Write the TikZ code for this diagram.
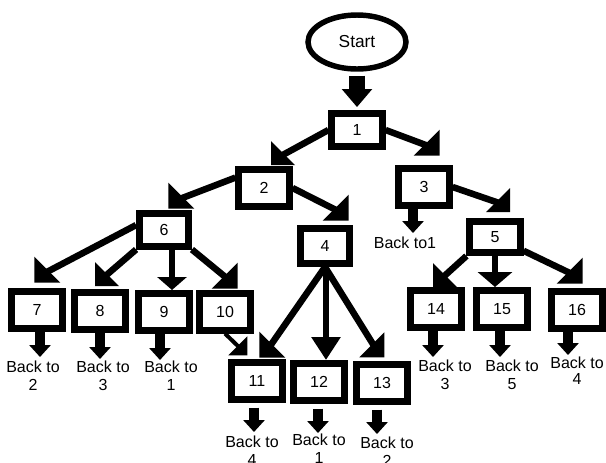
\documentclass[tikz,border=0pt]{standalone}
\usepackage{fontspec}
\setmainfont{Liberation Sans}
\usetikzlibrary{arrows.meta,shapes.geometric}
\begin{document}
\begin{tikzpicture}[x=0.75pt,y=-0.75pt,
  box/.style={draw, fill=white, line width=4.9pt, minimum width=38pt,
    minimum height=27.4pt, inner sep=0pt, font=\fontsize{12}{13}\selectfont},
  link/.style={line width=4.9pt},
  thinlink/.style={line width=3pt},
  vlink/.style 2 args={line width=4.9pt, -{Triangle[width=#1,length=#2]}},
  darr/.style={line width=7.5pt, -{Triangle[width=15.75pt,length=9pt]}},
  back/.style={align=center, inner sep=0pt, anchor=north,
    font=\fontsize{12}{13.5}\selectfont},
  pics/hse/.style={code={\fill (#1/3,#1/3) -- (-2*#1/3,#1/3) -- (#1/3,-2*#1/3) -- cycle;}},
  pics/hsw/.style={code={\fill (-#1/3,#1/3) -- (2*#1/3,#1/3) -- (-#1/3,-2*#1/3) -- cycle;}},
]
\fill[white] (0,0) rectangle (606,462);
\useasboundingbox (0,0) rectangle (606,462);

% start ellipse
\node[ellipse, draw, line width=4.1pt, minimum width=73.5pt, minimum height=40.5pt,
  inner sep=0pt, font=\fontsize{13}{15}\selectfont] (start) at (357,42) {Start};

% boxes
\node[box, minimum height=25pt]   (n1) at (357,130) {1};
\node[box, minimum height=28pt]   (n2) at (264,188) {2};
\node[box]                        (n3) at (424,187) {3};
\node[box, minimum width=37pt, minimum height=26.6pt] (n4) at (325,246) {4};
\node[box, minimum height=23.6pt] (n5) at (495,237) {5};
\node[box, minimum width=37pt, minimum height=24.4pt] (n6) at (164,230) {6};
\node[box] (n7)  at (37,310)  {7};
\node[box] (n8)  at (100,311) {8};
\node[box] (n9)  at (164,312) {9};
\node[box] (n10) at (225,312) {10};
\node[box] (n11) at (257,381) {11};
\node[box] (n12) at (319,382) {12};
\node[box] (n13) at (382,383) {13};
\node[box] (n14) at (436,309) {14};
\node[box] (n15) at (502,309) {15};
\node[box] (n16) at (577,310) {16};

% "Back to" labels
\node[font=\fontsize{12}{13.5}\selectfont, inner sep=0pt] (b3) at (405,243) {Back to1};
\node[back] (b7)  at (33,361)  {Back to\\2};
\node[back] (b8)  at (103,361) {Back to\\3};
\node[back] (b9)  at (171,361) {Back to\\1};
\node[back] (b11) at (252,436) {Back to\\4};
\node[back] (b12) at (319,434) {Back to\\1};
\node[back] (b13) at (387,437) {Back to\\2};
\node[back] (b14) at (445,360) {Back to\\3};
\node[back] (b15) at (512,360) {Back to\\5};
\node[back, font=\fontsize{12}{11.5}\selectfont] (b16) at (577,357) {Back to\\4};

% start arrow
\draw[line width=12pt, -{Triangle[width=22pt,length=13.5pt]}, shorten <=3pt, shorten >=2.25pt]
  (start.south) -- (n1.north);

% head centres of the diagonal connectors
\coordinate (h2)  at (279,157);
\coordinate (h3)  at (431,147);
\coordinate (h6)  at (177,200);
\coordinate (h4)  at (340,212);
\coordinate (h5)  at (502,204);
\coordinate (h7)  at (43,274);
\coordinate (h8)  at (103,278);
\coordinate (h10) at (229,280);
\coordinate (h11a) at (241,349);
\coordinate (h11b) at (268,349);
\coordinate (h13) at (376,349);
\coordinate (h14) at (441,279);
\coordinate (h16) at (574,275);

\draw[link] (n1.west) -- (h2);   \pic at (h2) {hsw=24};
\draw[link] (n1.east) -- (h3);   \pic at (h3) {hse=26};
\draw[link] (n2.160) -- (h6);    \pic at (h6) {hsw=26};
\draw[link] (n2.east) -- (h4);   \pic at (h4) {hse=26};
\draw[link] (n3.east) -- (h5);   \pic at (h5) {hse=24};
\draw[link] (n6.170) -- (h7);    \pic at (h7) {hsw=26};
\draw[link] (n6.south west) -- (h8); \pic at (h8) {hsw=24};
\draw[link] (n6.south east) -- (h10); \pic at (h10) {hse=26};
\draw[thinlink] (n10.south) -- (h11a); \pic at (h11a) {hse=19};
\draw[link] (n4.south) -- (h11b); \pic at (h11b) {hsw=26};
\draw[link] (n4.south) -- (h13);  \pic at (h13) {hse=25};
\draw[link] (n5.south west) -- (h14); \pic at (h14) {hsw=24};
\draw[link] (n5) -- (h16);        \pic at (h16) {hse=26};

% straight-down connectors
\coordinate (t9)  at (172,290);
\coordinate (t12) at (326,360);
\coordinate (t15) at (495,287);
\draw[vlink={21.75pt}{9.75pt}] (n6.south -| t9) -- (t9);
\draw[vlink={21pt}{17.25pt}] (n4.south -| t12) -- (t12);
\draw[vlink={25.5pt}{11.25pt}] (n5.south -| t15) -- (t15);

% small arrows to the "Back to" labels
\coordinate (a3)  at (413,233);
\coordinate (a7)  at (40,357);
\coordinate (a8)  at (100,359);
\coordinate (a9)  at (160,360);
\coordinate (a11) at (254,432);
\coordinate (a12) at (318,433);
\coordinate (a13) at (377,434);
\coordinate (a14) at (433,357);
\coordinate (a15) at (500,357);
\coordinate (a16) at (568,355);
\draw[darr] (n3.south -| a3) -- (a3);
\draw[darr] (n7.south -| a7) -- (a7);
\draw[darr] (n8.south -| a8) -- (a8);
\draw[darr] (n9.south -| a9) -- (a9);
\draw[darr, shorten <=3.75pt] (n11.south -| a11) -- (a11);
\draw[darr, shorten <=3.75pt] (n12.south -| a12) -- (a12);
\draw[darr, shorten <=3.75pt] (n13.south -| a13) -- (a13);
\draw[darr] (n14.south -| a14) -- (a14);
\draw[darr] (n15.south -| a15) -- (a15);
\draw[darr] (n16.south -| a16) -- (a16);
\end{tikzpicture}
\end{document}
